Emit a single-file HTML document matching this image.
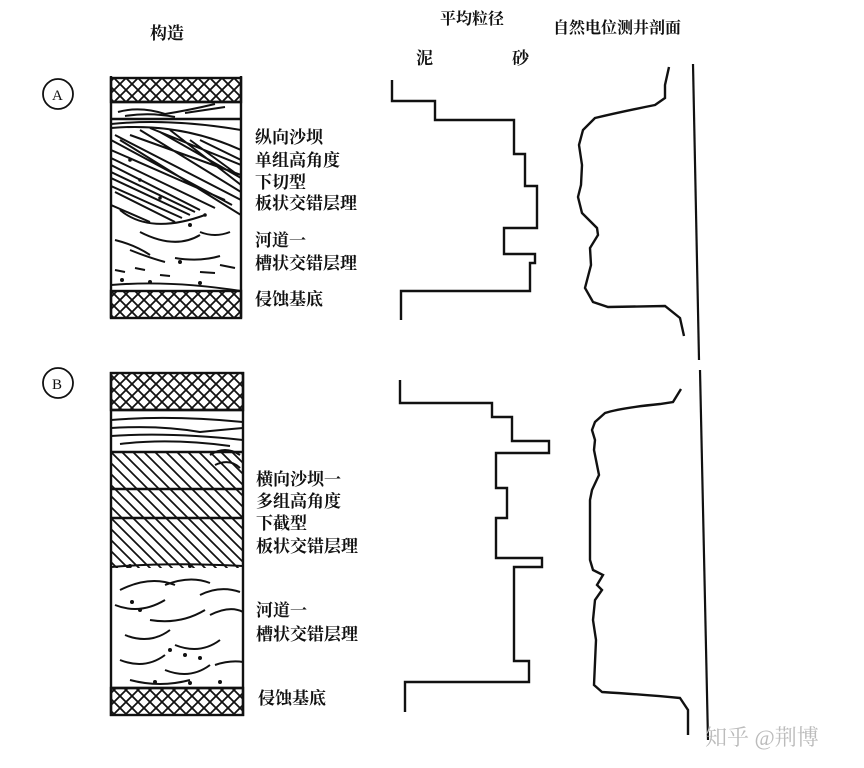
<!DOCTYPE html>
<html><head><meta charset="utf-8"><style>
html,body{margin:0;padding:0;background:#fff;}
svg{display:block;}
text{font-family:"Liberation Serif","Noto Serif CJK SC","Noto Sans CJK SC",serif;fill:#111;}
.lb{font-weight:bold;}
</style></head><body>
<svg width="864" height="768" viewBox="0 0 864 768" xmlns="http://www.w3.org/2000/svg">
<defs>
<pattern id="xh" width="12" height="12" patternUnits="userSpaceOnUse">
<path d="M0 0L12 12M12 0L0 12" stroke="#111" stroke-width="1.8"/>
</pattern>
<pattern id="diag" width="11" height="11" patternUnits="userSpaceOnUse">
<path d="M0 0L11 11M-5.5 5.5L5.5 16.5M5.5 -5.5L16.5 5.5" stroke="#111" stroke-width="1.7"/>
</pattern>
<clipPath id="ca"><rect x="111" y="102" width="130" height="190"/></clipPath>
<clipPath id="cb"><rect x="111" y="410" width="132" height="280"/></clipPath>
</defs>

<text x="150" y="39" font-size="17" class="lb">构造</text>
<text x="440" y="24" font-size="16" class="lb">平均粒径</text>
<text x="553" y="33" font-size="16" class="lb">自然电位测井剖面</text>
<text x="416" y="64" font-size="17" class="lb">泥</text>
<text x="512" y="64" font-size="17" class="lb">砂</text>

<circle cx="58" cy="94" r="15" fill="none" stroke="#111" stroke-width="1.8"/>
<text x="52" y="100" font-size="15">A</text>
<circle cx="58" cy="383" r="15" fill="none" stroke="#111" stroke-width="1.8"/>
<text x="52" y="389" font-size="15">B</text>

<!-- Column A -->
<g stroke="#111" fill="none" stroke-width="2.4">
<rect x="111" y="78" width="130" height="24" fill="url(#xh)"/>
<rect x="111" y="291" width="130" height="27" fill="url(#xh)"/>
<line x1="111" y1="76" x2="111" y2="318"/>
<line x1="241" y1="76" x2="241" y2="318"/>
<line x1="111" y1="102" x2="241" y2="102"/>
<line x1="111" y1="119" x2="241" y2="119"/>
<g clip-path="url(#ca)" stroke-width="2">
<path d="M118 112Q140 106 165 114Q190 110 215 104"/>
<path d="M125 116Q150 112 175 117M185 113L225 107"/>
<path d="M111 124Q170 118 241 130"/>
<path d="M111 128Q180 122 241 150"/>
<path d="M115 135L241 200M120 140L241 215M130 135L241 175M150 128L241 165M170 130L241 185M190 140L238 175M111 150L225 200M111 165L200 210M111 178L190 215M115 192L175 222M111 205L150 222M200 140L241 160M140 130L241 192M111 140L232 205M160 132L241 178M111 158L215 208M111 172L195 212M111 186L182 218"/>
<path d="M120 210Q150 235 205 215M140 232Q175 250 200 235M115 240Q135 245 150 255M130 250Q150 258 165 262M175 258Q200 262 220 256M200 232Q215 238 230 232M115 270L125 272M135 268L145 270M160 275L170 276M200 272L215 273M220 265L235 268"/>
<path d="M111 285Q170 280 241 291"/>
</g>
</g>
<g fill="#111">
<circle cx="130" cy="160" r="1.8"/><circle cx="140" cy="180" r="1.8"/><circle cx="160" cy="198" r="1.8"/><circle cx="205" cy="215" r="1.8"/><circle cx="190" cy="225" r="2"/><circle cx="180" cy="262" r="2"/><circle cx="150" cy="282" r="2"/><circle cx="200" cy="283" r="2"/><circle cx="122" cy="280" r="2"/>
</g>
<text class="lb" font-size="17" x="255" y="143">纵向沙坝</text>
<text class="lb" font-size="17" x="255" y="166">单组高角度</text>
<text class="lb" font-size="17" x="255" y="188">下切型</text>
<text class="lb" font-size="17" x="255" y="209">板状交错层理</text>
<text class="lb" font-size="17" x="255" y="246">河道一</text>
<text class="lb" font-size="17" x="255" y="269">槽状交错层理</text>
<text class="lb" font-size="17" x="255" y="305">侵蚀基底</text>

<polyline fill="none" stroke="#111" stroke-width="2.4" points="392,80 392,101 435,101 435,120 514,120 514,154 525,154 525,186 537,186 537,228 504,228 504,254 535,254 535,263 530,263 530,291 401,291 401,320"/>

<path fill="none" stroke="#111" stroke-width="2.4" d="M669 67L665 85L665 98L655 105Q620 112 595 118L583 130L579 145L582 165L581 185L578 197L582 213L597 228L598 235L590 248L591 265L585 288L593 302L608 307L665 306L680 318L684 336"/>
<line x1="693" y1="64" x2="699" y2="360" stroke="#111" stroke-width="2.2"/>

<!-- Column B -->
<g stroke="#111" fill="none" stroke-width="2.4">
<rect x="111" y="373" width="132" height="37" fill="url(#xh)"/>
<rect x="111" y="688" width="132" height="27" fill="url(#xh)"/>
<rect x="111" y="452" width="132" height="116" fill="url(#diag)" stroke="none"/>
<line x1="111" y1="372" x2="111" y2="716"/>
<line x1="243" y1="372" x2="243" y2="716"/>
<line x1="111" y1="410" x2="243" y2="410"/>
<line x1="111" y1="452" x2="243" y2="452"/>
<line x1="111" y1="489" x2="243" y2="489"/>
<line x1="111" y1="518" x2="243" y2="518"/>
<line x1="111" y1="688" x2="243" y2="688"/>
<g clip-path="url(#cb)" stroke-width="2">
<path d="M111 420Q170 415 243 422M111 428Q160 425 200 432Q220 430 243 428M111 436Q170 432 243 440M120 444Q170 438 230 446"/>
<path d="M111 567Q170 562 243 566"/>
<path d="M120 590Q150 575 175 585M165 585Q190 575 210 583M200 595Q220 585 240 592M115 605Q140 615 165 600M150 620Q180 625 205 610M210 615Q230 605 243 612M125 635Q150 645 170 630M175 645Q200 655 220 640M120 660Q145 670 165 655M165 670Q190 680 210 665M215 665Q230 660 243 662M130 680Q160 688 190 680"/>
<path d="M210 455Q225 445 240 455M215 465Q230 458 240 468"/>
</g>
</g>
<g fill="#111">
<circle cx="132" cy="602" r="2"/><circle cx="140" cy="610" r="2"/><circle cx="170" cy="650" r="2"/><circle cx="185" cy="655" r="2"/><circle cx="200" cy="658" r="2"/><circle cx="155" cy="682" r="2"/><circle cx="190" cy="683" r="2"/><circle cx="220" cy="682" r="2"/><circle cx="130" cy="566" r="2"/><circle cx="190" cy="566" r="2"/>
</g>
<text class="lb" font-size="17" x="256" y="485">横向沙坝一</text>
<text class="lb" font-size="17" x="256" y="507">多组高角度</text>
<text class="lb" font-size="17" x="256" y="529">下截型</text>
<text class="lb" font-size="17" x="256" y="552">板状交错层理</text>
<text class="lb" font-size="17" x="256" y="616">河道一</text>
<text class="lb" font-size="17" x="256" y="640">槽状交错层理</text>
<text class="lb" font-size="17" x="258" y="704">侵蚀基底</text>

<polyline fill="none" stroke="#111" stroke-width="2.4" points="400,380 400,403 492,403 492,417 512,417 512,441 549,441 549,453 496,453 496,488 507,488 507,518 496,518 496,558 542,558 542,567 514,567 514,661 529,661 529,682 405,682 405,712"/>

<path fill="none" stroke="#111" stroke-width="2.4" d="M681 389L673 402L660 404Q620 408 605 413L595 422L592 430L595 440L594 450L599 475L592 490L590 500L590 560L593 570L603 575L597 585L602 590L595 600L593 620L596 640L594 685L602 692Q650 695 680 698L688 710L688 735"/>
<line x1="700" y1="370" x2="708" y2="740" stroke="#111" stroke-width="2.2"/>

<text x="705" y="745" font-size="22" style="fill:#bbb" font-family="Liberation Sans, Noto Sans CJK SC, sans-serif">知乎 @荆博</text>
</svg>
</body></html>
